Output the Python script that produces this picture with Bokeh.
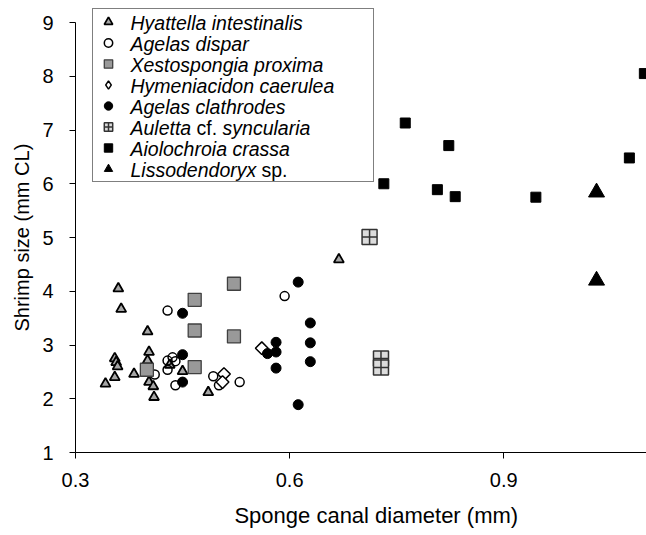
from bokeh.plotting import figure
from bokeh.models import FixedTicker, Label, Range1d, Title, Legend, LegendItem
from bokeh.core.properties import value
from bokeh.embed import file_html
from bokeh.resources import INLINE
import numpy as np

# ---- data ----
hy_x = [0.360, 0.364, 0.401, 0.403, 0.401, 0.355, 0.357, 0.359, 0.382, 0.355,
        0.342, 0.403, 0.409, 0.410, 0.432, 0.450, 0.486, 0.669]
hy_y = [4.05, 3.67, 3.25, 2.87, 2.71, 2.75, 2.68, 2.60, 2.46, 2.40,
        2.28, 2.31, 2.23, 2.03, 2.63, 2.51, 2.12, 4.59]

ad_x = [0.429, 0.429, 0.440, 0.436, 0.429, 0.411, 0.440, 0.493, 0.501, 0.530, 0.593]
ad_y = [3.64, 2.71, 2.70, 2.77, 2.54, 2.45, 2.25, 2.42, 2.25, 2.31, 3.91]

xp_x = [0.522, 0.467, 0.467, 0.522, 0.467, 0.400]
xp_y = [4.14, 3.84, 3.27, 3.16, 2.59, 2.54]

hc_x = [0.561, 0.508, 0.506]
hc_y = [2.94, 2.46, 2.31]

ac_x = [0.450, 0.450, 0.450, 0.612, 0.581, 0.581, 0.581, 0.569, 0.629, 0.629, 0.629, 0.612]
ac_y = [3.59, 2.82, 2.31, 4.17, 3.05, 2.87, 2.57, 2.84, 3.41, 3.04, 2.69, 1.89]

au_x = [0.712, 0.728, 0.728]
au_y = [5.01, 2.75, 2.58]

aio_x = [1.097, 0.762, 0.823, 1.076, 0.807, 0.832, 0.945, 0.732]
aio_y = [8.05, 7.13, 6.71, 6.48, 5.89, 5.76, 5.75, 6.00]

li_x = [1.030, 1.030]
li_y = [5.84, 4.20]

x_ticks = [0.3, 0.6, 0.9]
y_ticks = [1, 2, 3, 4, 5, 6, 7, 8, 9]

# legend texts: list of (text piece, style, x offset from text start in px)
legend_texts = [
    [("Hyattella intestinalis", "italic", 0)],
    [("Agelas dispar", "italic", 0)],
    [("Xestospongia proxima", "italic", 0)],
    [("Hymeniacidon caerulea", "italic", 0)],
    [("Agelas clathrodes", "italic", 0)],
    [("Auletta", "italic", 0), ("cf.", "normal", 66.1), ("syncularia", "italic", 92.1)],
    [("Aiolochroia crassa", "italic", 0)],
    [("Lissodendoryx", "italic", 0), ("sp.", "normal", 131.0)],
]

FONT = "Liberation Sans"
PX_PER_Y = 53.75          # frame pixels per y unit

p = figure(width=646, height=535, output_backend="svg", toolbar_location=None,
           x_range=Range1d(0.3, 1.1), y_range=Range1d(1, 9 + 20 / PX_PER_Y),
           min_border_left=75, min_border_right=0, min_border_top=2,
           min_border_bottom=83)
p.outline_line_color = None
p.xgrid.grid_line_color = None
p.ygrid.grid_line_color = None
p.background_fill_color = "white"
p.border_fill_color = "white"

for ax in (p.xaxis[0], p.yaxis[0]):
    ax.axis_line_color = "black"
    ax.axis_line_width = 1
    ax.major_tick_line_color = "black"
    ax.major_tick_in = 0
    ax.major_tick_out = 6
    ax.minor_tick_line_color = None
    ax.major_label_text_font = FONT
    ax.major_label_text_font_size = "20px"
    ax.major_label_text_color = "black"

p.xaxis.ticker = FixedTicker(ticks=x_ticks)
p.yaxis.ticker = FixedTicker(ticks=y_ticks)
p.yaxis.bounds = (1, 9)
p.xaxis.major_label_standoff = 14
p.yaxis.major_label_standoff = 16

# x title: leading no-break spaces move its centre ~15 px right of the frame centre
p.xaxis.axis_label = "\u00a0" * 5 + "Sponge canal diameter (mm)"
p.xaxis.axis_label_text_font = FONT
p.xaxis.axis_label_text_font_size = "22px"
p.xaxis.axis_label_text_font_style = "normal"
p.xaxis.axis_label_text_color = "black"
p.xaxis.axis_label_standoff = 13

p.add_layout(Title(text="Shrimp size (mm CL)", align="left", offset=121,
                   text_font=FONT, text_font_size="20px", text_font_style="normal",
                   text_color="black", standoff=14), "left")

# series
r_hy = p.scatter(hy_x, hy_y, marker="triangle", size=10, fill_color="#a6a6a6",
                 line_color="black", line_width=1.8)
r_ad = p.scatter(ad_x, ad_y, marker="circle", size=9, fill_color=None,
                 line_color="black", line_width=1.5)
r_xp = p.scatter(xp_x, xp_y, marker="square", size=13, fill_color="#999999",
                 line_color="#404040", line_width=1.3)
# diamond key for the legend (lies hidden under the tilted squares below)
r_hc_key = p.scatter(hc_x, hc_y, marker="diamond", size=6, fill_color="white",
                     line_color="black", line_width=1.4)
p.scatter(hc_x, hc_y, marker="square", size=9, angle=np.pi / 4, fill_color="white",
          line_color="black", line_width=1.5)
r_ac = p.scatter(ac_x, ac_y, marker="circle", size=10, fill_color="black",
                 line_color="black")
r_au = p.scatter(au_x, au_y, marker="square_cross", size=15, fill_color="#dcdcdc",
                 line_color="#333333", line_width=1.5)
r_aio = p.scatter(aio_x, aio_y, marker="square", size=10, fill_color="black",
                  line_color="black")
r_li = p.scatter(li_x, li_y, marker="triangle", size=16, fill_color="black",
                 line_color="black")

keys = [r_hy, r_ad, r_xp, r_hc_key, r_ac, r_au, r_aio, r_li]
lg = Legend(items=[LegendItem(label=value(""), renderers=[r]) for r in keys],
            location=(17, 452 - 182), margin=0, padding=2, spacing=0,
            glyph_width=26, glyph_height=21, label_height=21, label_width=240,
            label_standoff=10, label_text_font_size="1px",
            border_line_color="black", border_line_width=1,
            background_fill_alpha=0.0)
p.add_layout(lg, "center")

# legend texts, one row per key (row centre: top 10 + padding 2 + half row)
row_top = 10 + 2 + 10.5
row_pitch = 21
text_start = 92 + 2 + 26 + 10 - 75       # px from the frame's left edge
for i, pieces in enumerate(legend_texts):
    yy = 1 + (452 - (row_top + i * row_pitch)) / PX_PER_Y
    for txt, style, dx in pieces:
        p.add_layout(Label(x=0.3, y=yy, x_offset=text_start + dx, text=txt,
                           text_font=FONT, text_font_size="19.5px",
                           text_font_style=style, text_baseline="middle",
                           text_align="left", text_color="black", level="overlay"))

open("out.html", "w").write(file_html(p, INLINE))
